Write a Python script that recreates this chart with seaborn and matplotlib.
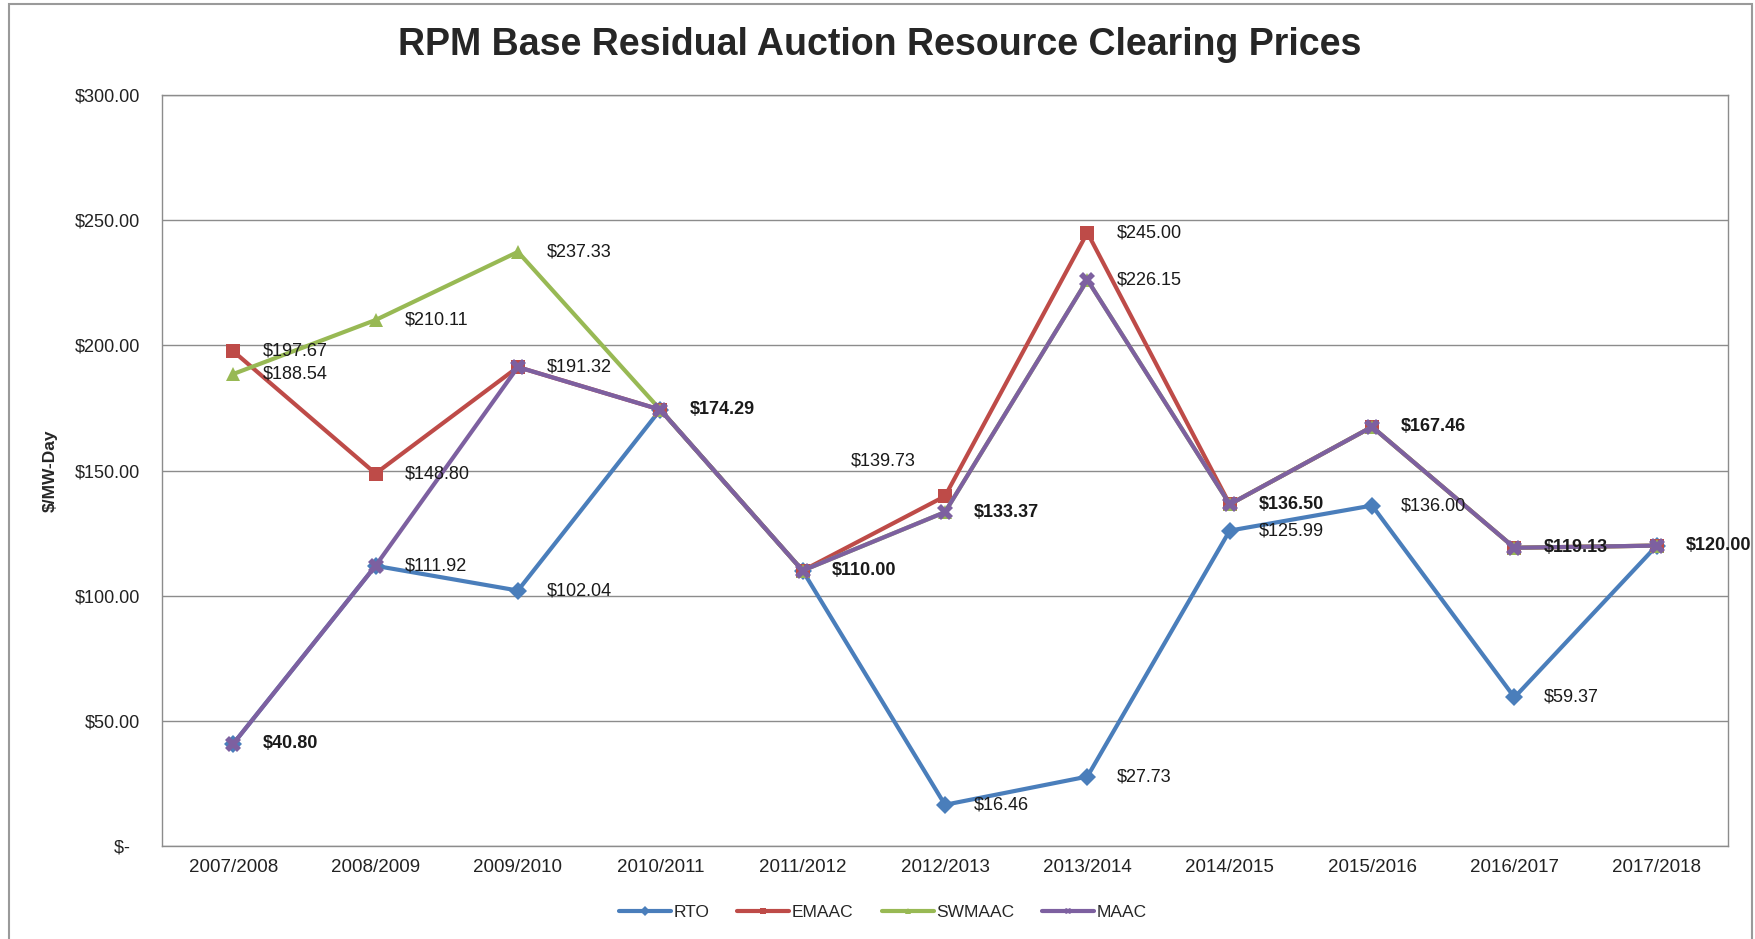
import pandas as pd
import seaborn as sns
import matplotlib.pyplot as plt
from matplotlib.patches import Rectangle
from matplotlib.ticker import FuncFormatter

years = ['2007/2008', '2008/2009', '2009/2010', '2010/2011', '2011/2012', '2012/2013',
         '2013/2014', '2014/2015', '2015/2016', '2016/2017', '2017/2018']
rto = [40.80, 111.92, 102.04, 174.29, 110.00, 16.46, 27.73, 125.99, 136.00, 59.37, 120.00]
emaac = [197.67, 148.80, 191.32, 174.29, 110.00, 139.73, 245.00, 136.50, 167.46, 119.13, 120.00]
swmaac = [188.54, 210.11, 237.33, 174.29, 110.00, 133.37, 226.15, 136.50, 167.46, 119.13, 120.00]
maac = [40.80, 111.92, 191.32, 174.29, 110.00, 133.37, 226.15, 136.50, 167.46, 119.13, 120.00]
zones = ['RTO', 'EMAAC', 'SWMAAC', 'MAAC']
# labels that show up bold in the original (stacked labels)
bold_vals = [40.80, 174.29, 110.00, 133.37, 136.50, 167.46, 119.13, 120.00]

series = dict(zip(zones, [rto, emaac, swmaac, maac]))
df = pd.DataFrame({
    'year': years * 4,
    'price': rto + emaac + swmaac + maac,
    'zone': [z for z in zones for _ in years],
})

sns.set_theme(style='white')
plt.rcParams['font.family'] = ['Liberation Sans', 'DejaVu Sans']

colors = {'RTO': '#4A7EBB', 'EMAAC': '#BE4B48', 'SWMAAC': '#98B954', 'MAAC': '#7D60A0'}
markers = {'RTO': 'D', 'EMAAC': 's', 'SWMAAC': '^', 'MAAC': 'X'}

fig = plt.figure(figsize=(17.56, 9.39), dpi=100)
ax = fig.add_axes([162 / 1756, 1 - 846 / 939, 1566 / 1756, 751 / 939])

sns.lineplot(data=df, x='year', y='price', hue='zone', style='zone', hue_order=zones,
             style_order=zones, palette=colors, markers=markers, dashes=False,
             linewidth=3, markersize=10, markeredgewidth=0, ax=ax)

# per-series marker size (MAAC star sits on top of the RTO diamond)
for line, ms in zip(ax.get_lines()[:4], [9, 10, 10, 12]):
    line.set_markersize(ms)

ax.set_xlim(-0.5, len(years) - 0.5)
ax.set_ylim(0, 300)
ax.set_yticks(range(0, 301, 50))
ax.yaxis.set_major_formatter(FuncFormatter(lambda v, p: '$-  ' if v == 0 else f'${v:.2f}'))
ax.tick_params(axis='y', length=0, pad=16, labelsize=13, colors='#222222')
ax.tick_params(axis='x', length=0, pad=9, labelsize=13.5, colors='#222222')
ax.yaxis.grid(True, color='#8c8c8c', linewidth=1)
ax.set_axisbelow(True)
for s in ax.spines.values():
    s.set_color('#8c8c8c')
    s.set_linewidth(1)

ax.set_xlabel('')
ax.set_ylabel('$/MW-Day', fontsize=12.5, fontweight='bold')
ax.yaxis.set_label_coords(-0.0664, 0.5)

# data labels
seen = set()
for name, vals in series.items():
    for i, v in enumerate(vals):
        if (i, v) in seen:
            continue
        seen.add((i, v))
        weight = 'bold' if v in bold_vals else 'normal'
        off = (-68, 25) if (i, v) == (5, 139.73) else (21, 0)
        ax.annotate(f'${v:.2f}', (i, v), xytext=off, textcoords='offset points',
                    ha='left', va='center', fontsize=13, fontweight=weight,
                    color='#1a1a1a', zorder=5)

fig.text(880 / 1756, 1 - 45 / 939, 'RPM Base Residual Auction Resource Clearing Prices',
         ha='center', va='center', fontsize=27, fontweight='bold')

sns.move_legend(ax, 'center', bbox_to_anchor=(0.4604, -0.0879), ncol=4, frameon=False,
                title=None, fontsize=12.5, handlelength=3, handletextpad=0.15,
                columnspacing=1.6, markerscale=0.5)

fig.patches.append(Rectangle((9 / 1756, -0.1), 1743 / 1756, 1.1 - 4 / 939,
                             transform=fig.transFigure, fill=False,
                             edgecolor='#9a9a9a', linewidth=1.5))

fig.savefig('out.png', dpi=100)
